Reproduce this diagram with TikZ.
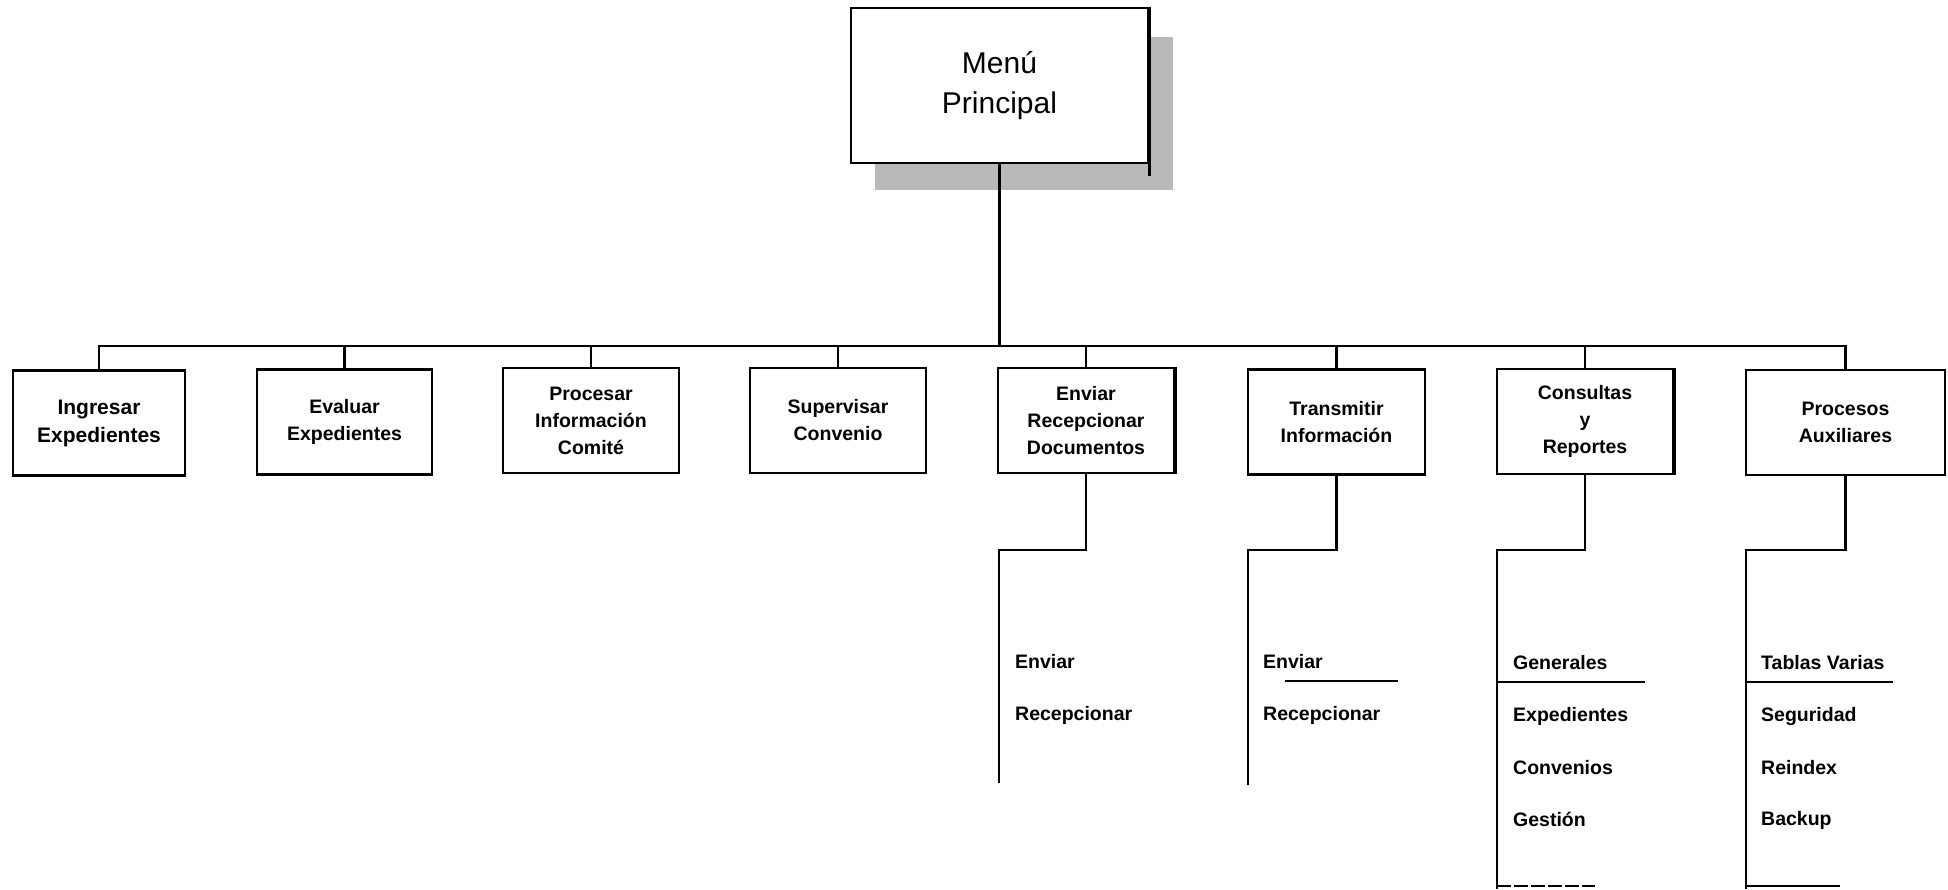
\documentclass[tikz,border=0pt]{standalone}
\usepackage{fontspec}
\setmainfont{Liberation Sans}
\begin{document}
\begin{tikzpicture}[x=1pt,y=-1pt,
  line join=miter,
  boxstyle/.style={draw=black, fill=white, line width=2.2pt, inner sep=0pt,
    minimum height=105pt, align=center,
    font=\fontsize{19.5}{27}\selectfont\bfseries},
  itemstyle/.style={anchor=west, inner sep=0pt,
    font=\fontsize{19.5}{24}\selectfont\bfseries},
  wire/.style={draw=black, line width=2.4pt},
  thinwire/.style={draw=black, line width=1.4pt}]
\useasboundingbox (0,0) rectangle (1948,889);

% main box with shadow
\fill[gray!55] (875,37) rectangle (1173,190);
\node[draw=black, fill=white, line width=2.2pt, minimum width=297pt,
  minimum height=155pt, inner sep=0pt, align=center,
  font=\fontsize{30}{40}\selectfont] (main) at (999.5,85.5) {Menú\\Principal};
\draw[line width=3pt] (main.north east) -- ([yshift=-12pt]main.south east);

% bus
\coordinate (busL) at (98,346);
\coordinate (busR) at (1847,346);
\draw[wire] (busL) -- (busR);
\draw[wire] (main.south) -- (main.south |- busL);

% second-level boxes
\node[boxstyle, minimum width=172pt, font=\fontsize{21}{28}\selectfont\bfseries] (b1) at (99,423) {Ingresar\\Expedientes};
\node[boxstyle, minimum width=175pt] (b2) at (344.5,422) {Evaluar\\Expedientes};
\node[boxstyle, minimum width=176pt] (b3) at (591,420.5) {Procesar\\Información\\Comité};
\node[boxstyle, minimum width=176pt] (b4) at (838,420.5) {Supervisar\\Convenio};
\node[boxstyle, minimum width=176pt] (b5) at (1086,420.5) {Enviar\\Recepcionar\\Documentos};
\node[boxstyle, minimum width=177pt] (b6) at (1336.5,422) {Transmitir\\Información};
\node[boxstyle, minimum width=176pt] (b7) at (1585,421.5) {Consultas\\y\\Reportes};
\node[boxstyle, minimum width=199pt] (b8) at (1845.5,422.5) {Procesos\\Auxiliares};
\draw[line width=3pt] (b5.north east) -- (b5.south east);
\draw[line width=3pt] (b7.north east) -- (b7.south east);

\foreach \b in {b1,b2,b3,b4,b5,b6,b7,b8}
  \draw[wire] (\b.north) -- (\b.north |- busL);

% sub-trees
\coordinate (s5) at (999,550);  \coordinate (e5) at (999,783);
\coordinate (s6) at (1248,550); \coordinate (e6) at (1248,785);
\coordinate (s7) at (1497,550); \coordinate (e7) at (1497,889);
\coordinate (s8) at (1746,550); \coordinate (e8) at (1746,889);
\draw[wire] (b5.south) |- (s5) -- (e5);
\draw[wire] (b6.south) |- (s6) -- (e6);
\draw[wire] (b7.south) |- (s7) -- (e7);
\draw[wire] (b8.south) |- (s8) -- (e8);

% sub items
\node[itemstyle] (b5a) at (1015,662) {Enviar};
\node[itemstyle] (b5b) at (1015,715) {Recepcionar};

\node[itemstyle] (b6a) at (1263,662) {Enviar};
\node[itemstyle] (b6b) at (1263,715) {Recepcionar};

\node[itemstyle] (b7a) at (1513,663) {Generales};
\node[itemstyle] (b7b) at (1513,716) {Expedientes};
\node[itemstyle] (b7c) at (1513,768) {Convenios};
\node[itemstyle] (b7d) at (1513,819) {Gestión};

\node[itemstyle] (b8a) at (1761,663) {Tablas Varias};
\node[itemstyle] (b8b) at (1761,716) {Seguridad};
\node[itemstyle] (b8c) at (1761,768) {Reindex};
\node[itemstyle] (b8d) at (1761,820) {Backup};

% underlines
\coordinate (u6a) at (1285,681); \coordinate (u6b) at (1398,681);
\draw[thinwire] (u6a) -- (u6b);
\coordinate (u7a) at (1497,682); \coordinate (u7b) at (1645,682);
\draw[thinwire] (u7a) -- (u7b);
\coordinate (u8a) at (1746,682); \coordinate (u8b) at (1893,682);
\draw[thinwire] (u8a) -- (u8b);
\coordinate (f7a) at (1497,886); \coordinate (f7b) at (1595,886);
\draw[thinwire, dash pattern=on 14pt off 3pt] (f7a) -- (f7b);
\coordinate (f8a) at (1746,886); \coordinate (f8b) at (1840,886);
\draw[thinwire] (f8a) -- (f8b);
\end{tikzpicture}
\end{document}
